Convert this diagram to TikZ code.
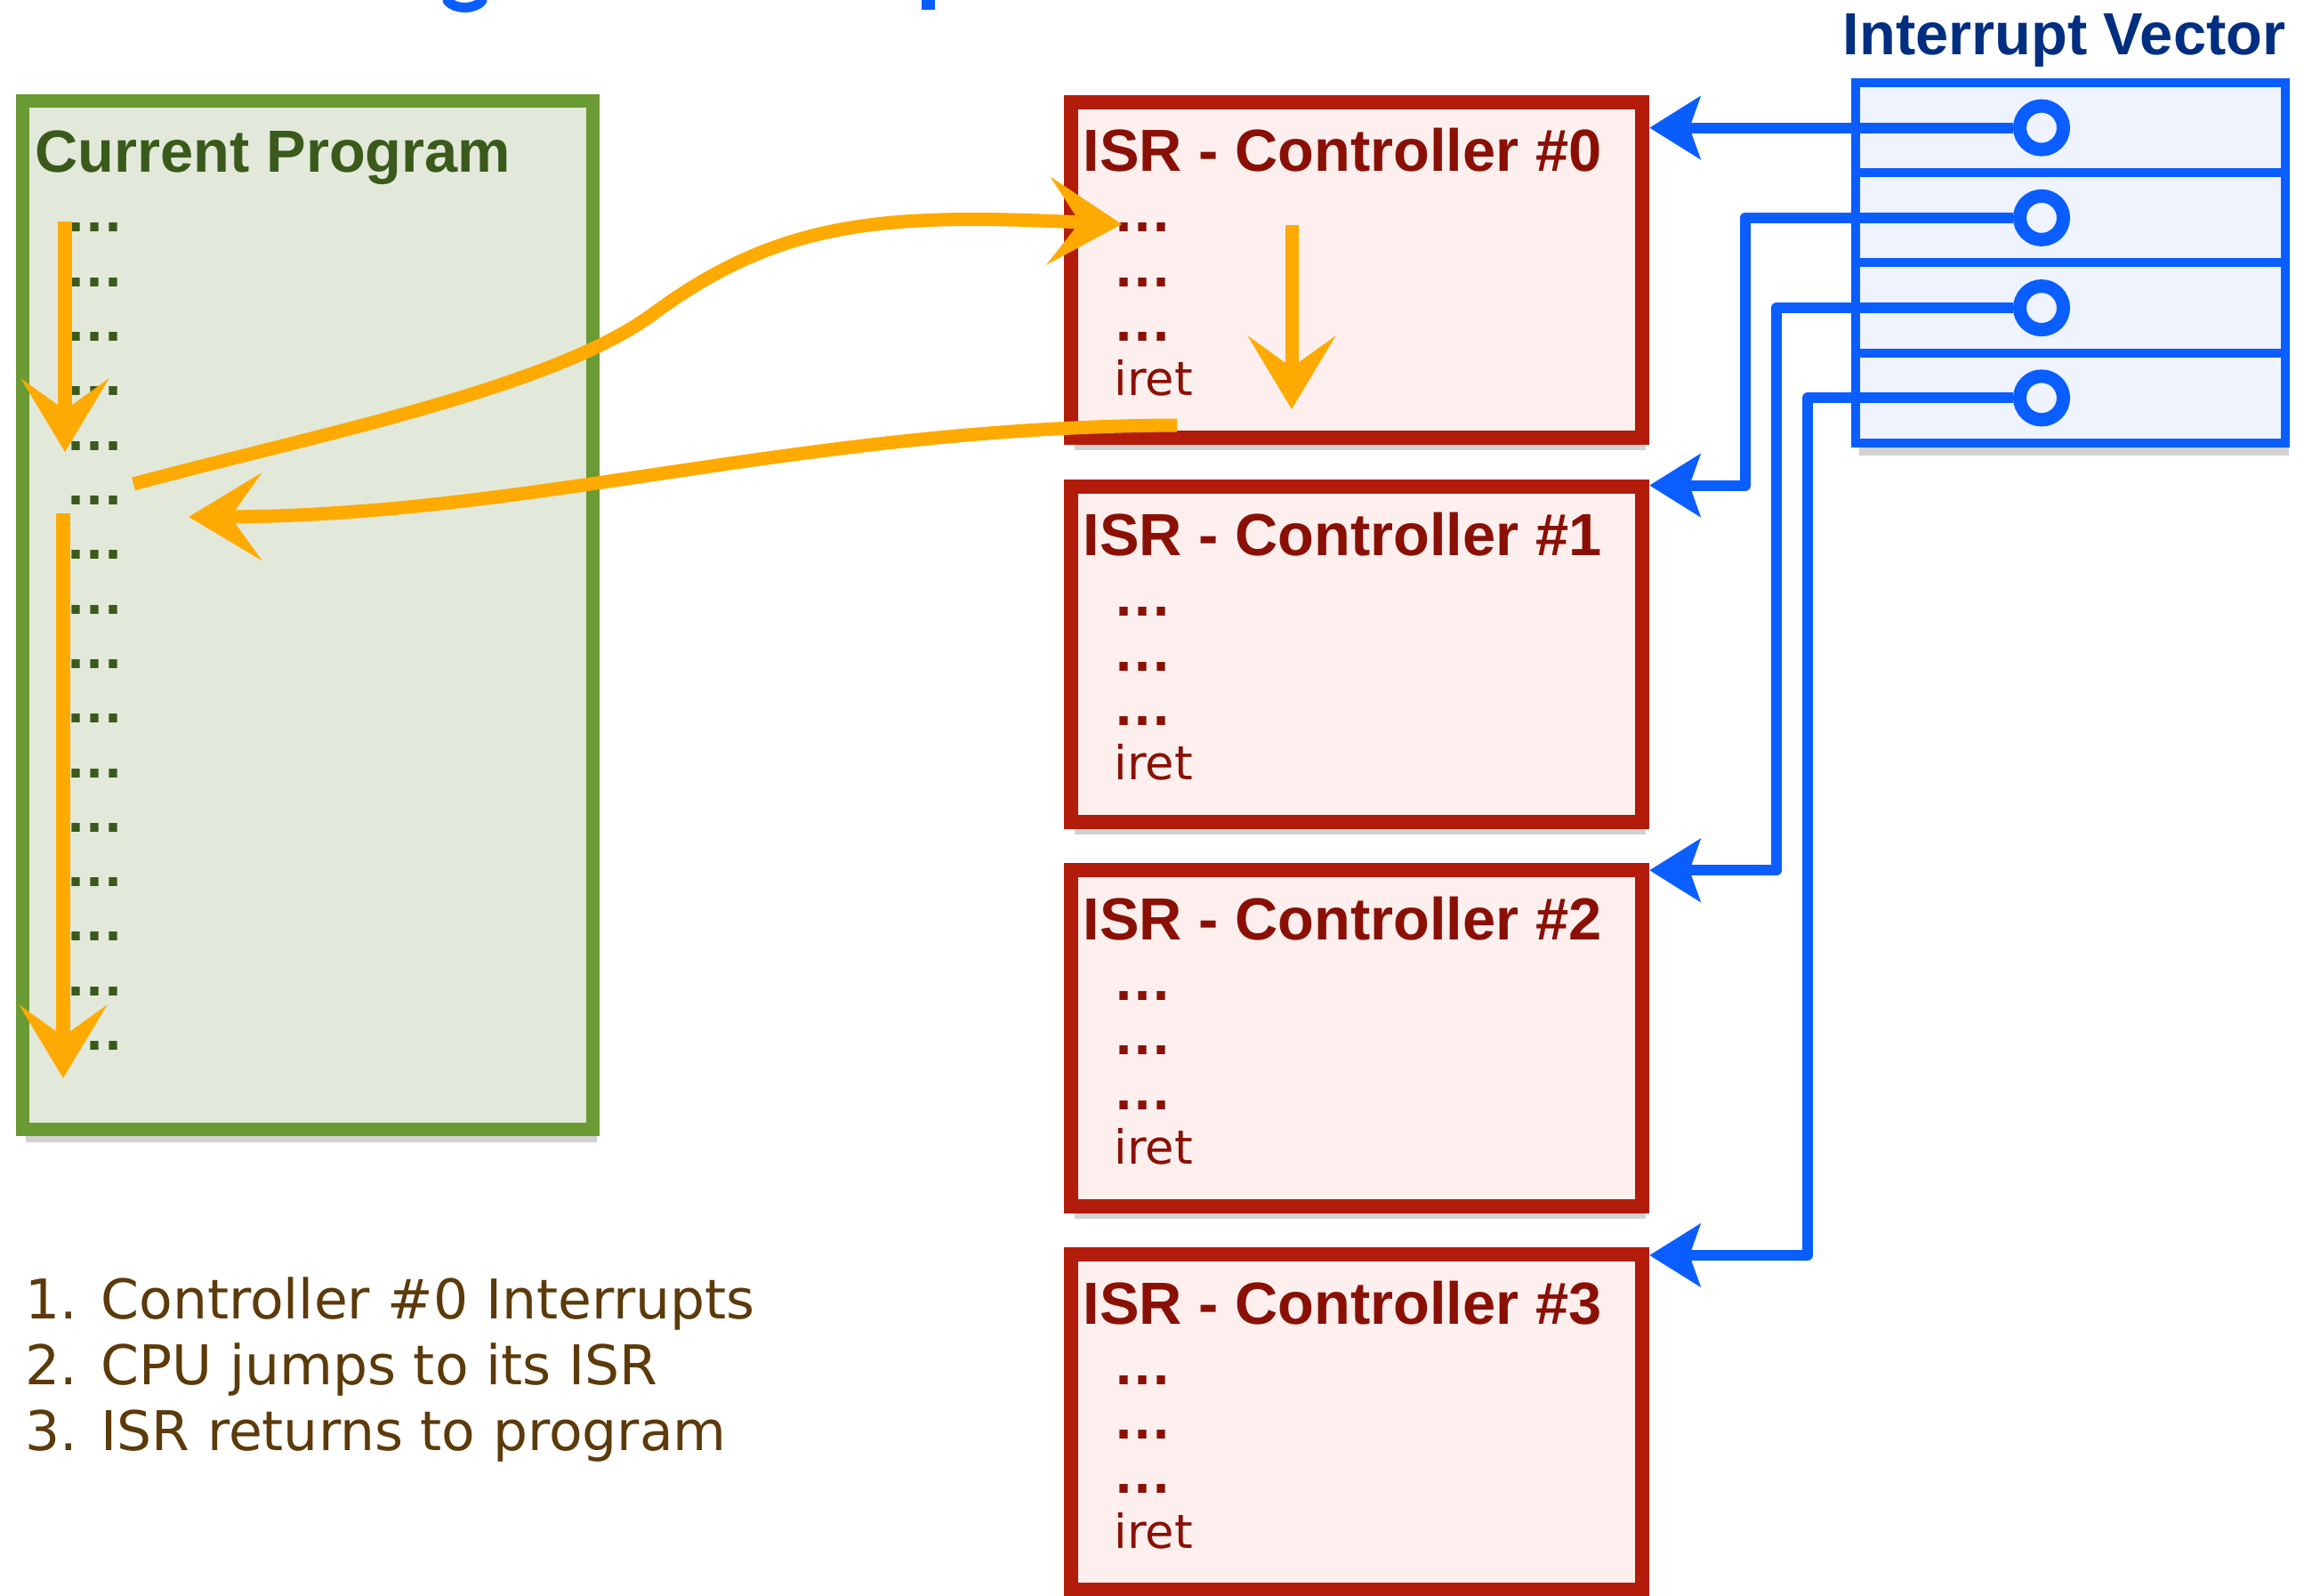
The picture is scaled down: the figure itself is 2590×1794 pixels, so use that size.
\documentclass[tikz,border=0pt]{standalone}
\usepackage{fontspec}
\setmainfont{Liberation Sans}
\newfontfamily\lgfont{DejaVu Sans}
\usetikzlibrary{arrows.meta,shadows,calc}
\definecolor{gborder}{HTML}{6A9A34}
\definecolor{gfill}{HTML}{E3E9DA}
\definecolor{gtext}{HTML}{3A5A1C}
\definecolor{rborder}{HTML}{B31C0A}
\definecolor{rfill}{HTML}{FCEFEE}
\definecolor{rtext}{HTML}{8A1005}
\definecolor{bline}{HTML}{0A5EFF}
\definecolor{bfill}{HTML}{EEF3FD}
\definecolor{btext}{HTML}{002E80}
\definecolor{orng}{HTML}{FFAA00}
\definecolor{brn}{HTML}{5C3A0A}
\newcommand\dd{{\bfseries.\kern0.02em.\kern0.02em.}}
\tikzset{
  boxshadow/.style={drop shadow={shadow xshift=0.4mm, shadow yshift=-1.4mm, opacity=0.35}},
  progbox/.style={draw=gborder, fill=gfill, line width=1.5mm, minimum width=6.41cm, minimum height=11.56cm, inner sep=0, boxshadow},
  isrbox/.style={draw=rborder, fill=rfill, line width=1.6mm, minimum width=6.42cm, minimum height=3.77cm, inner sep=0, boxshadow},
  vecouter/.style={draw=bline, fill=bfill, line width=1mm, minimum width=4.83cm, minimum height=4.05cm, inner sep=0, boxshadow},
  vecrow/.style={draw=bline, fill=bfill, line width=1mm, minimum width=4.83cm, minimum height=1.0125cm, inner sep=0},
  ring/.style={circle, draw=bline, fill=bfill, line width=1.5mm, minimum size=0.49cm, inner sep=0},
  bigtitle/.style={inner sep=0, anchor=base west, font=\fontsize{19}{22}\selectfont\bfseries},
  progtitle/.style={bigtitle, text=gtext},
  isrtitle/.style={bigtitle, text=rtext},
  vtitle/.style={bigtitle, text=btext},
  progdots/.style={inner sep=0, anchor=base west, text=gtext, font=\lgfont\fontsize{15}{18}\selectfont},
  isrtext/.style={inner sep=0, anchor=base west, text=rtext, font=\lgfont\fontsize{15}{18}\selectfont},
  listtext/.style={inner sep=0, anchor=base west, text=brn, font=\lgfont\fontsize{17.5}{21}\selectfont},
  vecarrow/.style={draw=bline, line width=1.2mm, line join=round, -{Stealth[length=5.7mm, width=7mm, inset=1.2mm]}},
  orarrow/.style={draw=orng, line width=1.5mm, line join=round, -{Stealth[length=8.2mm, width=9.8mm, inset=3.5mm]}}
}
\begin{document}
\begin{tikzpicture}[x=0.01cm, y=-0.01cm]
\useasboundingbox[fill=white] (0,0) rectangle (2590,1794);

% cut-off title fragments at the top edge
\draw[bline, line width=1.1mm, line cap=round] (503,1) .. controls (512,11) and (533,11) .. (542,1);
\fill[bline] (1036,0) rectangle (1051,11);

% current program
\node[progbox] (prog) at (346,691.5) {};
\node[progtitle] (progt) at (39,194) {Current Program};
\foreach \k in {0,...,15}
  \node[progdots] (pd\k) at (75,{261+61.3*\k}) {\dd};

% ISR boxes
\foreach \k in {0,...,3} {
  \node[isrbox] (isr\k) at (1525,{303.5+431.7*\k}) {};
  \node[isrtitle] (isrt\k) at (1217,{193+431.7*\k}) {ISR - Controller \#\k};
  \foreach \j in {0,1,2}
    \node[isrtext] (isrl\k\j) at (1253,{261+431.7*\k+61.3*\j}) {\dd};
  \node[isrtext] (iret\k) at (1252,{444.9+431.7*\k}) {iret};
}

% interrupt vector
\node[vtitle] (vt) at (2071,62) {Interrupt Vector};
\node[vecouter] (vec) at (2327.5,295.5) {};
\foreach \k in {0,...,3} {
  \node[vecrow] (v\k) at (2327.5,{143.6+101.25*\k}) {};
}
\foreach \k in {0,...,3} {
  \node[ring] (c\k) at (2295,{143.6+101.25*\k}) {};
}

% blue vector connectors
\coordinate (t0) at ([yshift=-3.3mm]isr0.north east);
\coordinate (t1) at ([yshift=-0.7mm]isr1.north east);
\coordinate (t2) at ([yshift=-0.8mm]isr2.north east);
\coordinate (t3) at ([yshift=-0.9mm]isr3.north east);
\coordinate (k1) at (1962,0);
\coordinate (k2) at (1997,0);
\coordinate (k3) at (2032,0);
\draw[vecarrow] (c0.west) -- (c0.west -| t0);
\draw[vecarrow] (c1.west) -| (k1 |- t1) -- (t1);
\draw[vecarrow] (c2.west) -| (k2 |- t2) -- (t2);
\draw[vecarrow] (c3.west) -| (k3 |- t3) -- (t3);

% orange flow arrows
\coordinate (a1s) at (73,249);   \coordinate (a1e) at (73,508);
\coordinate (a2s) at (71,577);   \coordinate (a2e) at (71,1212);
\coordinate (a3s) at (1452,253); \coordinate (a3e) at (1452,460);
\draw[orarrow] (a1s) -- (a1e);
\draw[orarrow] (a2s) -- (a2e);
\draw[orarrow] (a3s) -- (a3e);

\coordinate (jS) at (150,544);  \coordinate (jE) at (1261,252);
\draw[orarrow] (jS) .. controls (350,490) and (620,437) .. (734,353)
                    .. controls (880,245) and (1000,240) .. (jE);

\coordinate (rS) at (1323,478); \coordinate (rE) at (212,581);
\draw[orarrow] (rS) .. controls (900,480) and (600,580) .. (rE);

% steps list
\node[listtext] (s1) at (28,1482) {1. Controller \#0 Interrupts};
\node[listtext] (s2) at (28,1556) {2. CPU jumps to its ISR};
\node[listtext] (s3) at (28,1630) {3. ISR returns to program};
\end{tikzpicture}
\end{document}
